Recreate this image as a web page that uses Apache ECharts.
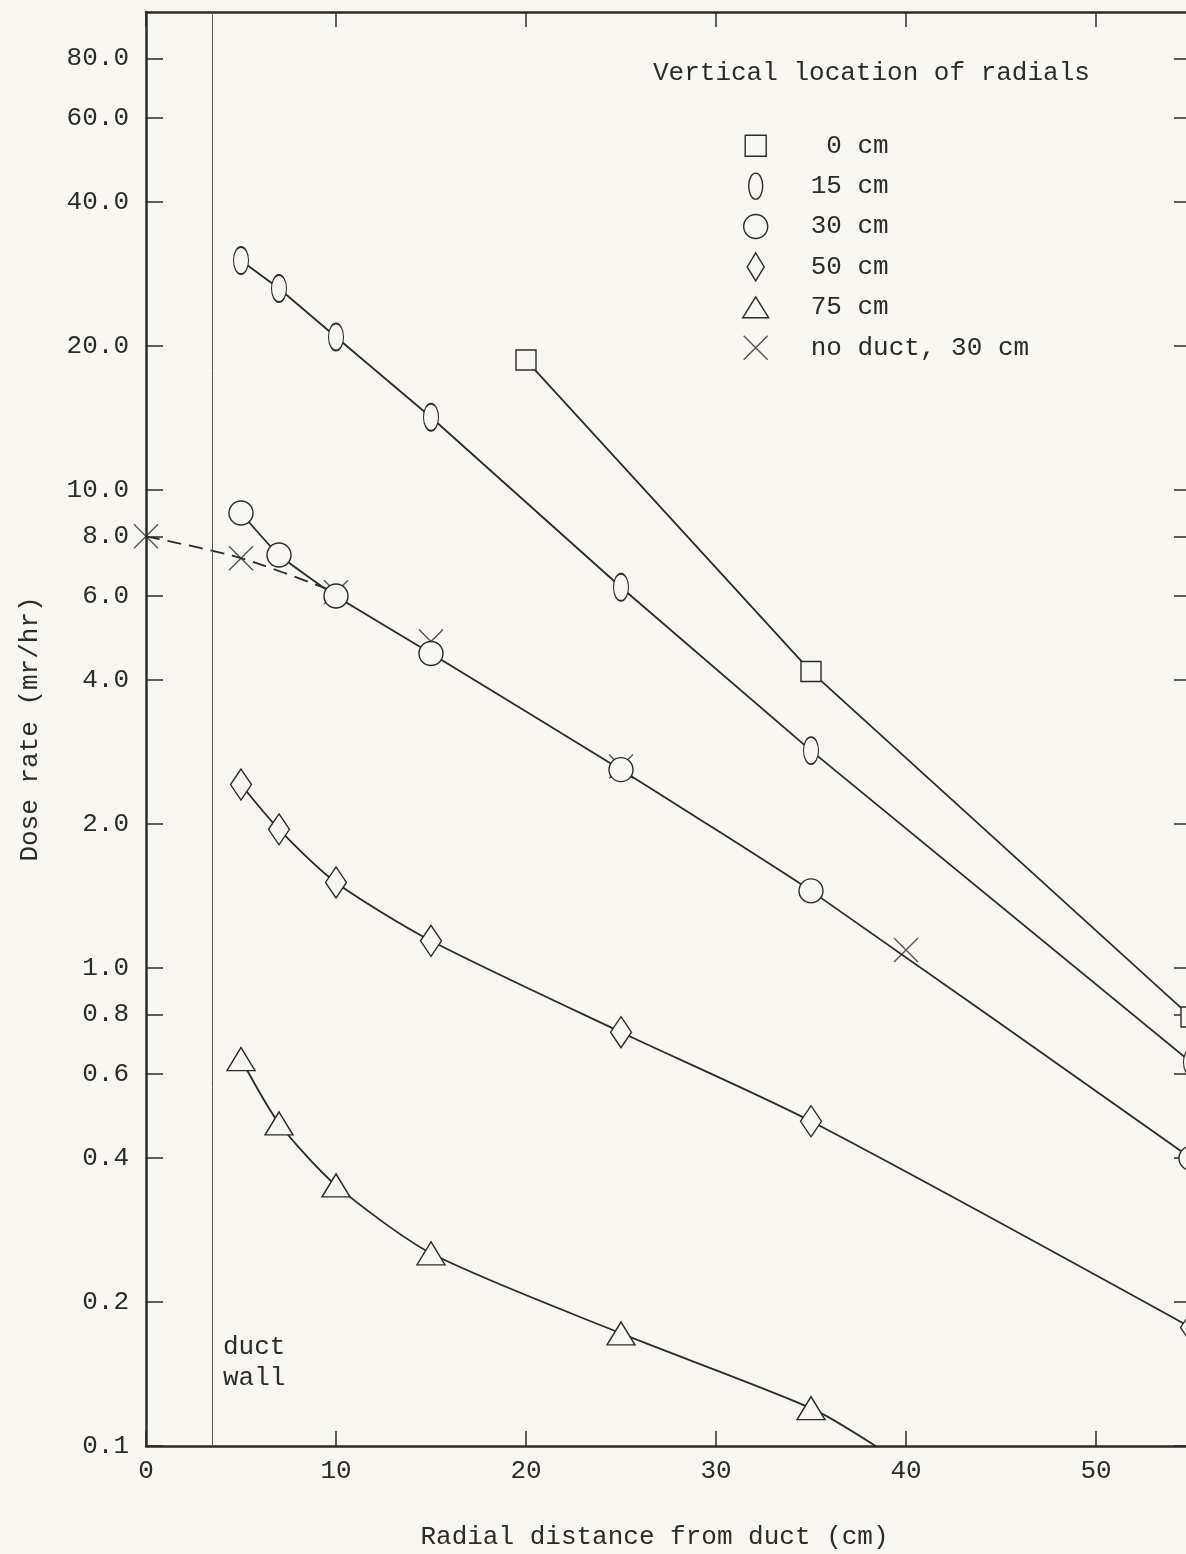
<!DOCTYPE html>
<html>
<head>
<meta charset="utf-8">
<title>Dose rate vs radial distance from duct</title>
<script src="https://cdn.jsdelivr.net/npm/echarts@6/dist/echarts.min.js"></script>
<style>
  html, body { margin: 0; padding: 0; background: #f7f6f1; overflow: hidden; }
  #chart { width: 1186px; height: 1554px; }
</style>
</head>
<body>
<div id="chart"></div>
<script>
const ink = '#2b2b2b'
const paper = '#f7f6f1'
const font = '"Liberation Mono", "DejaVu Sans Mono", monospace'

// readings per vertical location of the radial: distance (cm) / dose rate (mr/hr)
const x0cm = [20, 35, 55]
const y0cm = [18.7, 4.17, 0.79]
const x15cm = [5, 7, 10, 15, 25, 35, 55]
const y15cm = [30.2, 26.4, 20.9, 14.2, 6.26, 2.85, 0.635]
const x30cm = [5, 7, 10, 15, 25, 35, 55]
const y30cm = [8.95, 7.31, 6.0, 4.55, 2.60, 1.45, 0.40]
const x50cm = [5, 7, 10, 15, 25, 35, 55]
const y50cm = [2.42, 1.95, 1.51, 1.14, 0.734, 0.478, 0.177]
const x75cm = [5, 7, 10, 15, 25, 35]
const y75cm = [0.645, 0.473, 0.351, 0.253, 0.172, 0.120]
// the 75 cm curve runs on until it meets the bottom of the plot
const x75cmEnd = [38.4]
const y75cmEnd = [0.1]
const xNoDuct = [0, 5, 10, 15, 25, 40]
const yNoDuct = [8.0, 7.2, 6.11, 4.82, 2.64, 1.09]
const ductWallX = 3.5

const yTicks = [0.1, 0.2, 0.4, 0.6, 0.8, 1, 2, 4, 6, 8, 10, 20, 40, 60, 80]

const pts = (xs, ys) => xs.map((x, i) => [x, ys[i]])

// marker shapes on the curves
const sym = {
    square: 'path://M0,0H20V20H0Z',
    ellipse: 'path://M7,0C10.9,0 14,5.8 14,13C14,20.2 10.9,26 7,26C3.1,26 0,20.2 0,13C0,5.8 3.1,0 7,0Z',
    circle: 'circle',
    diamond: 'path://M9,0L18,14L9,28L0,14Z',
    triangle: 'path://M13,0L26,22H0Z',
    cross: 'path://M0,0L24,24M24,0L0,24'
}

// same shapes for the key, padded to one 26x28 box so they keep their own sizes
const pad = 'M0,0L0,0M26,28L26,28'
const key = {
    square: 'path://' + pad + 'M2.5,3.5H23.5V24.5H2.5Z',
    ellipse: 'path://' + pad + 'M13,1C16.9,1 20,6.8 20,14C20,21.2 16.9,27 13,27C9.1,27 6,21.2 6,14C6,6.8 9.1,1 13,1Z',
    circle: 'path://' + pad + 'M13,2A12,12 0 1,1 13,26A12,12 0 1,1 13,2Z',
    diamond: 'path://' + pad + 'M13,0L21.5,14L13,28L4.5,14Z',
    triangle: 'path://' + pad + 'M13,3.5L26,24.5H0Z',
    cross: 'path://' + pad + 'M1,2L25,26M25,2L1,26'
}

function radial(name, data, symbol, size, smooth) {
    return {
        name,
        type: 'line',
        data,
        symbol,
        symbolSize: size,
        symbolKeepAspect: false,
        showAllSymbol: true,
        smooth,
        clip: false,
        silent: true,
        lineStyle: { color: ink, width: 1.8 },
        itemStyle: { color: paper, borderColor: ink, borderWidth: 1.4 },
        emphasis: { disabled: true }
    }
}

const textBase = { fontFamily: font, fontSize: 26, color: ink, fontWeight: 'normal' }

const axisLine = { show: true, onZero: false, lineStyle: { color: ink, width: 2.5 } }

const series = [
    Object.assign(radial(' 0 cm', pts(x0cm, y0cm), sym.square, 20, false), {
        markLine: {
            silent: true,
            symbol: 'none',
            label: { show: false },
            lineStyle: { color: '#555', width: 1, type: 'solid' },
            data: [{ xAxis: ductWallX }]
        }
    }),
    radial('15 cm', pts(x15cm, y15cm), sym.ellipse, [15, 27], false),
    radial('30 cm', pts(x30cm, y30cm), sym.circle, 24, 0.15),
    radial('50 cm', pts(x50cm, y50cm), sym.diamond, [21, 31], 0.25),
    radial('75 cm', pts(x75cm, y75cm).concat(pts(x75cmEnd, y75cmEnd).map(p => ({ value: p, symbol: 'none' }))), sym.triangle, [28, 23], 0.25),
    {
        name: 'no duct line',
        type: 'line',
        data: pts(xNoDuct.slice(0, 3), yNoDuct.slice(0, 3)),
        symbol: 'none',
        smooth: 0.3,
        silent: true,
        lineStyle: { color: ink, width: 1.8, type: [14, 8] }
    },
    {
        name: 'no duct, 30 cm',
        type: 'scatter',
        data: pts(xNoDuct, yNoDuct),
        symbol: sym.cross,
        symbolSize: 24,
        clip: false,
        silent: true,
        itemStyle: { color: 'none', borderColor: ink, borderWidth: 1.4 },
        emphasis: { disabled: true }
    }
]

const tick = (length) => ({ show: true, inside: true, length, lineStyle: { color: ink, width: 1.5 } })

const chart = echarts.init(document.getElementById('chart'))
chart.setOption({
    backgroundColor: paper,
    animation: false,
    title: [
        { text: 'Vertical location of radials', left: 648, top: 55, textStyle: textBase },
        { text: 'duct\nwall', left: 218, top: 1327, textStyle: Object.assign({ lineHeight: 31 }, textBase) }
    ],
    legend: {
        orient: 'vertical',
        left: 737,
        top: 126,
        itemWidth: 26,
        itemHeight: 28,
        itemGap: 11,
        selectedMode: false,
        symbolKeepAspect: true,
        textStyle: Object.assign({ lineHeight: 28, padding: [0, 0, 0, 37] }, textBase),
        itemStyle: { color: paper, borderColor: ink, borderWidth: 1.4 },
        data: [
            { name: ' 0 cm', icon: key.square },
            { name: '15 cm', icon: key.ellipse },
            { name: '30 cm', icon: key.circle },
            { name: '50 cm', icon: key.diamond },
            { name: '75 cm', icon: key.triangle },
            { name: 'no duct, 30 cm', icon: key.cross }
        ]
    },
    grid: { left: 146, right: -5, top: 12, bottom: 108, containLabel: false, outerBoundsMode: 'none' },
    xAxis: [
        {
            type: 'value',
            min: 0,
            max: 55,
            interval: 10,
            position: 'bottom',
            axisLine,
            axisTick: tick(15),
            axisLabel: Object.assign({ margin: 12, showMaxLabel: false }, textBase),
            splitLine: { show: false },
            name: 'Radial distance from duct (cm)',
            nameLocation: 'middle',
            nameGap: 78,
            nameTextStyle: Object.assign({ padding: [0, 28, 0, 0] }, textBase)
        },
        {
            type: 'value',
            min: 0,
            max: 55,
            interval: 10,
            position: 'top',
            axisLine,
            axisTick: tick(15),
            axisLabel: { show: false },
            splitLine: { show: false }
        }
    ],
    yAxis: [
        {
            type: 'log',
            logBase: 10,
            min: 0.1,
            max: 100,
            position: 'left',
            axisLine,
            axisTick: Object.assign(tick(17), { customValues: yTicks }),
            axisLabel: Object.assign({ customValues: yTicks, margin: 17, formatter: v => Number(v).toFixed(1) }, textBase),
            splitLine: { show: false },
            minorTick: { show: false },
            name: 'Dose rate (mr/hr)',
            nameLocation: 'middle',
            nameRotate: 90,
            nameGap: 103,
            nameMoveOverlap: false,
            nameTextStyle: textBase
        },
        {
            type: 'log',
            logBase: 10,
            min: 0.1,
            max: 100,
            position: 'right',
            axisLine,
            axisTick: Object.assign(tick(17), { customValues: yTicks }),
            axisLabel: { show: false },
            splitLine: { show: false }
        }
    ],
    series
})
</script>
</body>
</html>
